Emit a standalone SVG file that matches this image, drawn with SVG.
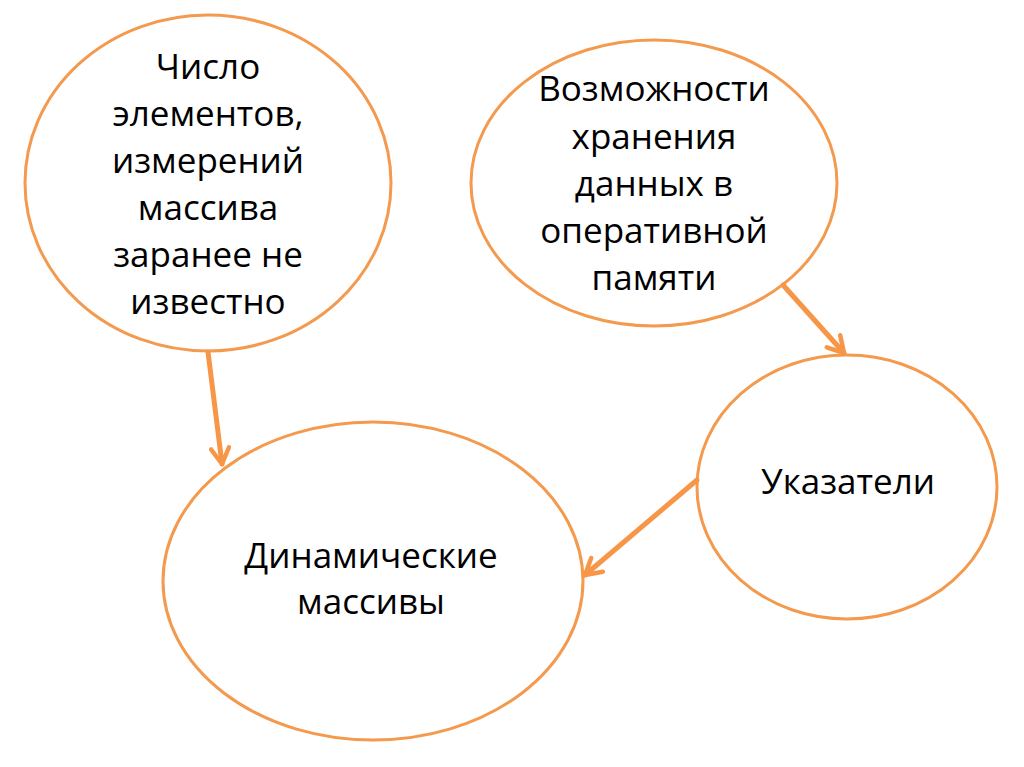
<svg xmlns="http://www.w3.org/2000/svg" width="1024" height="767" viewBox="0 0 1024 767">
<style>
.node{fill:#fff;stroke:#F39A4E;stroke-width:3}
.t{font-family:"Open Sans","Liberation Sans",sans-serif;font-size:35px;fill:#000;text-anchor:middle}
.c{stroke:#F79646;stroke-width:5;fill:none;stroke-linecap:round}
</style>
<defs>
<marker id="ah" viewBox="0 0 10 10" refX="8" refY="5" markerWidth="4.5" markerHeight="4.5" orient="auto" markerUnits="strokeWidth">
<path d="M1,1 L8,5 L1,9" fill="none" stroke="#F79646" stroke-width="2" stroke-linecap="round" stroke-linejoin="round"/>
</marker>
</defs>
<rect width="1024" height="767" fill="#fff"/>
<g id="node-chislo">
<ellipse class="node" cx="208" cy="183" rx="183" ry="168"/>
<text class="t"><tspan x="208" y="79">Число</tspan><tspan x="208" y="126">элементов,</tspan><tspan x="208" y="173">измерений</tspan><tspan x="208" y="220">массива</tspan><tspan x="208" y="267">заранее не</tspan><tspan x="208" y="314">известно</tspan></text>
</g>
<g id="node-vozm">
<ellipse class="node" cx="654" cy="183" rx="183" ry="143"/>
<text class="t"><tspan x="654" y="101">Возможности</tspan><tspan x="654" y="149">хранения</tspan><tspan x="654" y="196">данных в</tspan><tspan x="654" y="243">оперативной</tspan><tspan x="654" y="290">памяти</tspan></text>
</g>
<g id="node-ukaz">
<ellipse class="node" cx="847" cy="487" rx="150" ry="132"/>
<text class="t" x="848" y="494">Указатели</text>
</g>
<g id="node-dyn">
<ellipse class="node" cx="373" cy="581" rx="210" ry="159"/>
<text class="t"><tspan x="371" y="568">Динамические</tspan><tspan x="371" y="614">массивы</tspan></text>
</g>
<g id="connectors">
<line class="c" x1="208" y1="352" x2="222" y2="464" marker-end="url(#ah)"/>
<line class="c" x1="783" y1="285" x2="844" y2="353" marker-end="url(#ah)"/>
<line class="c" x1="697" y1="480" x2="585" y2="575" marker-end="url(#ah)"/>
</g>
</svg>
